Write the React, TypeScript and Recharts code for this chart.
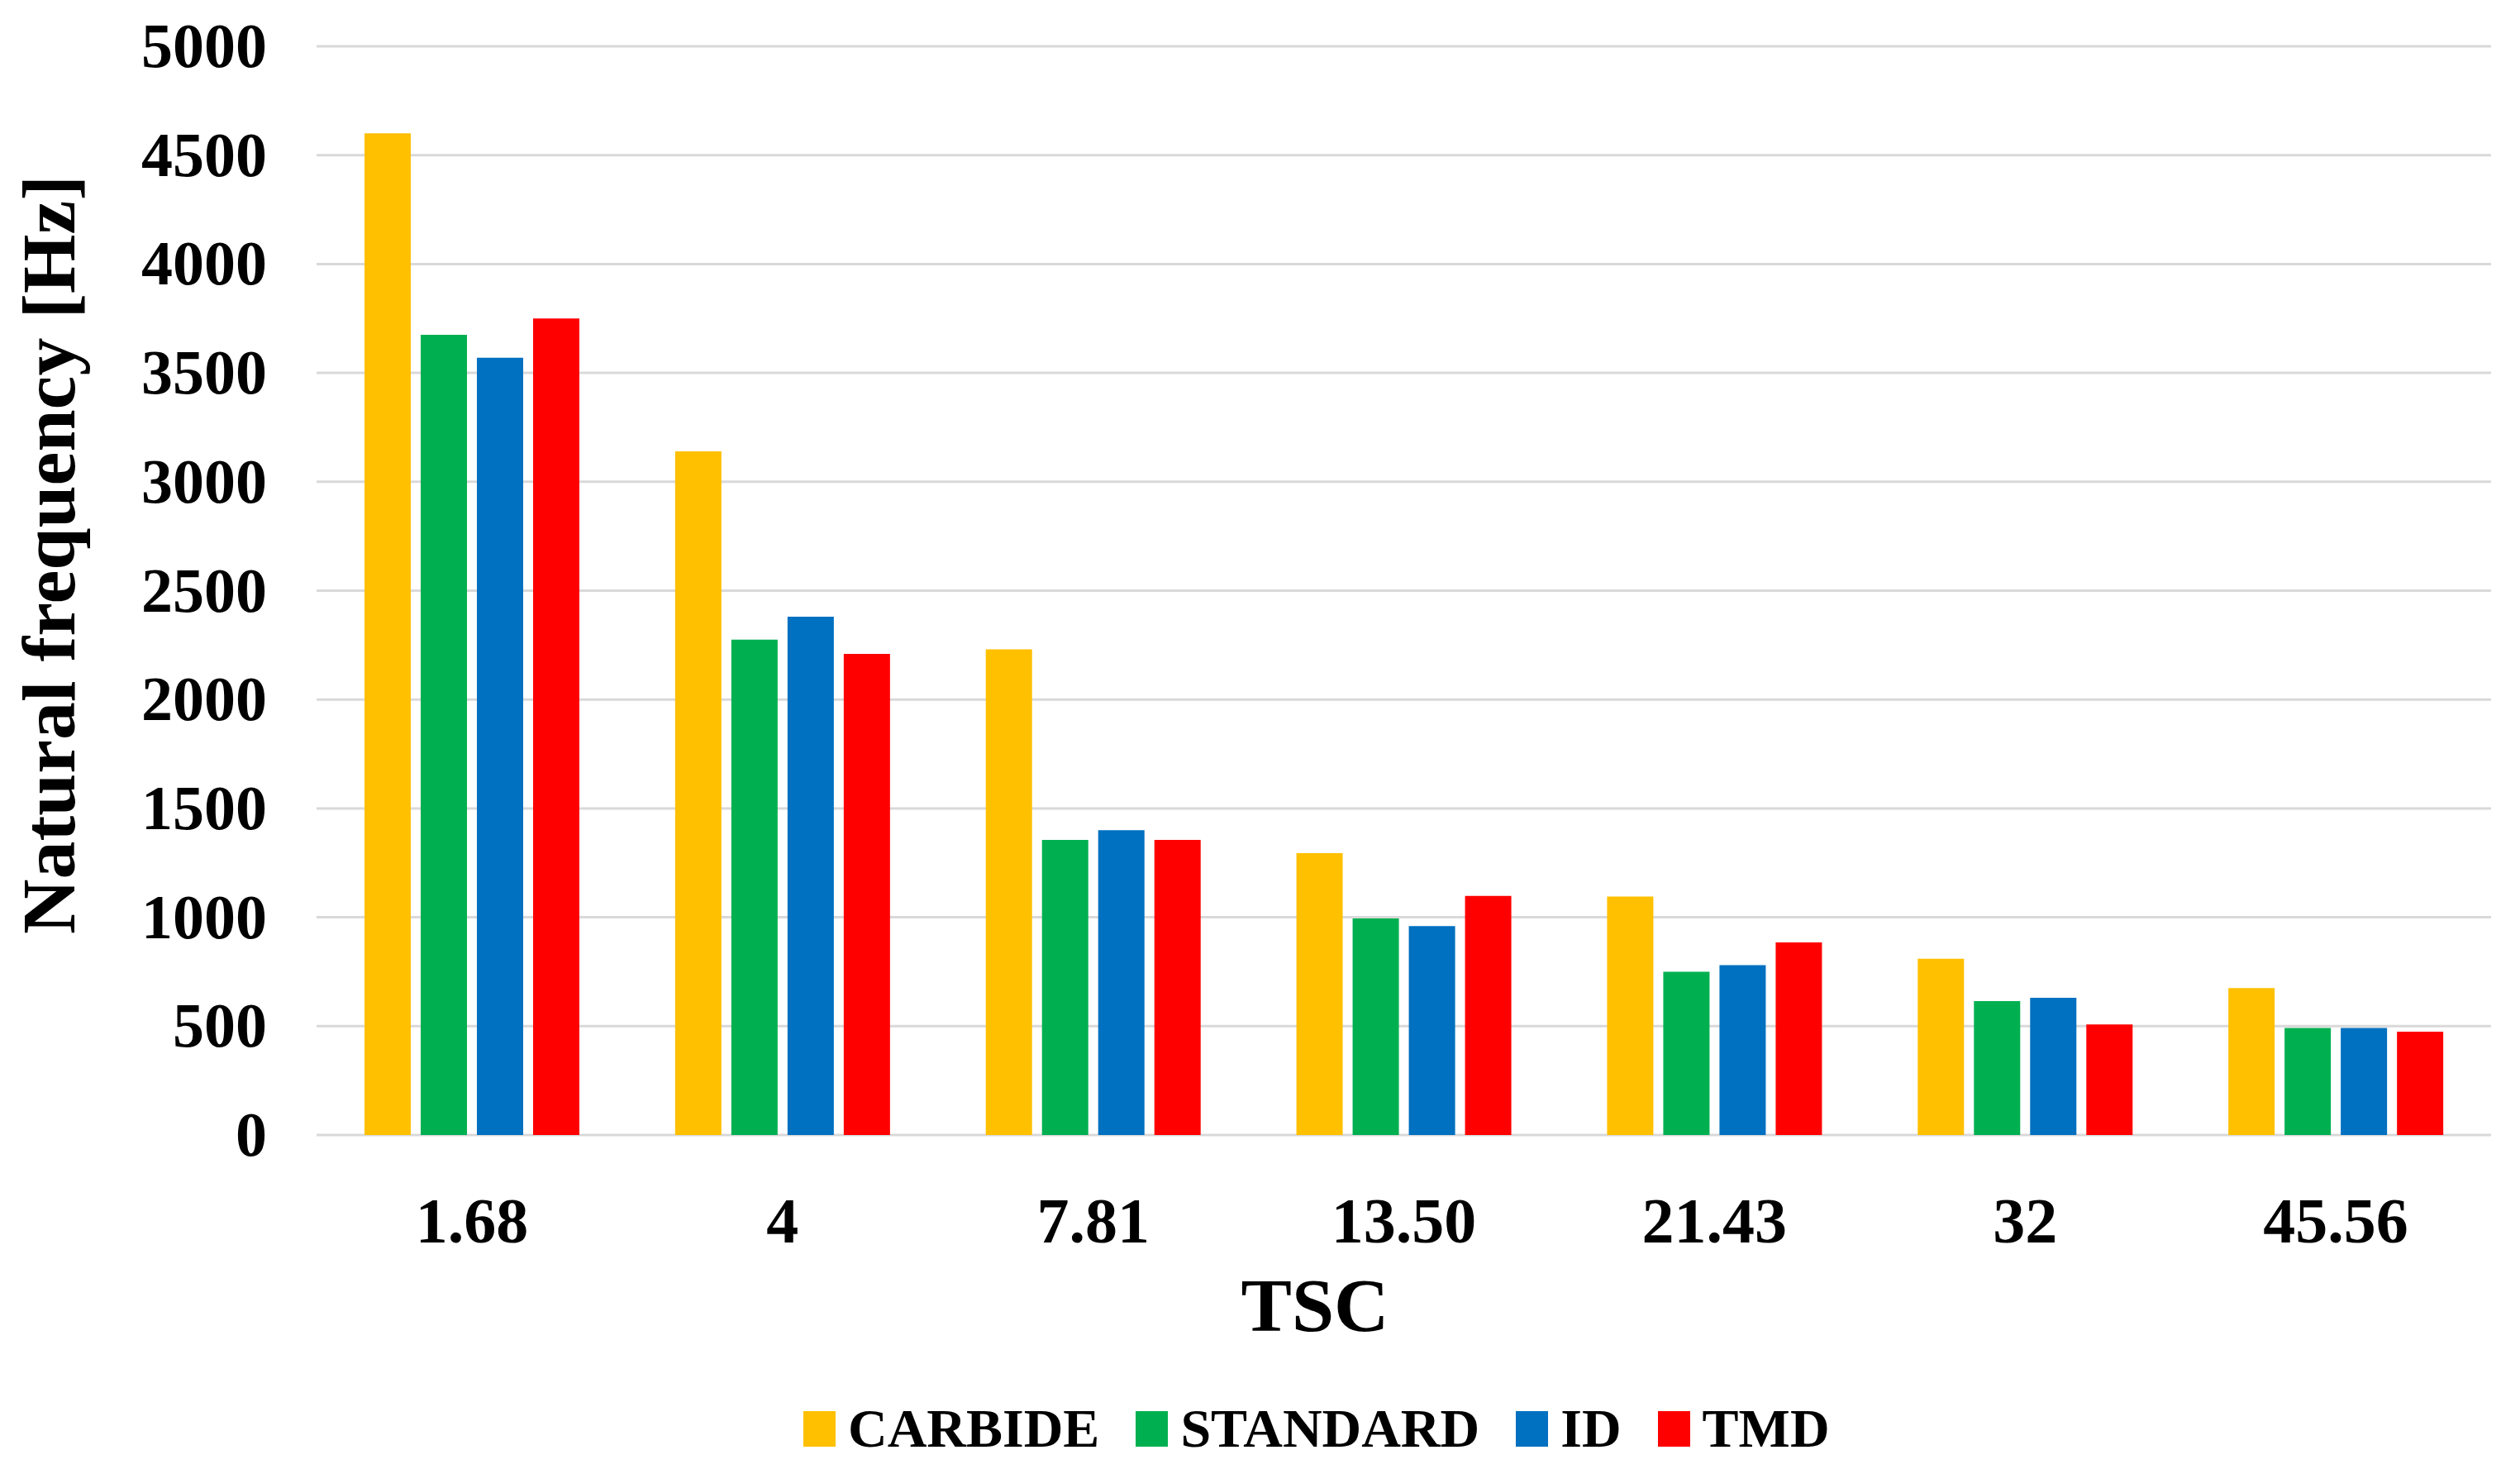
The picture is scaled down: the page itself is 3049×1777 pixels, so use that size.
import React from 'react';
import { BarChart, Bar, XAxis, YAxis, CartesianGrid, Label } from 'recharts';

// TSC categories and natural frequency [Hz] per tool type
const categories = ['1.68', '4', '7.81', '13.50', '21.43', '32', '45.56'];
const carbide = [4600, 3140, 2230, 1295, 1095, 810, 675];
const standard = [3675, 2275, 1355, 995, 750, 615, 492];
const idTool = [3570, 2380, 1400, 960, 780, 630, 492];
const tmd = [3750, 2210, 1355, 1098, 885, 508, 475];
const yTicks = [0, 500, 1000, 1500, 2000, 2500, 3000, 3500, 4000, 4500, 5000];

const seriesNames = ['CARBIDE', 'STANDARD', 'ID', 'TMD'];
const seriesColors = ['#FFC000', '#00B050', '#0070C0', '#FF0000'];

const FONT = '"Liberation Serif", "Times New Roman", serif';

const chartData = categories.map((tsc, i) => ({
  tsc,
  CARBIDE: carbide[i],
  STANDARD: standard[i],
  ID: idTool[i],
  TMD: tmd[i],
}));

const XTick = ({ x, y, payload }: any) => (
  <text x={x} y={y} dy={122} textAnchor="middle" fontFamily={FONT} fontWeight={700} fontSize={78} fill="#000">
    {payload.value}
  </text>
);

const YTick = ({ x, y, payload }: any) => (
  <text x={x} y={y} dy={25} textAnchor="end" fontFamily={FONT} fontWeight={700} fontSize={76} fill="#000">
    {payload.value}
  </text>
);

const YTitle = () => (
  <text
    x={60}
    y={671}
    transform="rotate(-90 60 671)"
    dy={30}
    textAnchor="middle"
    fontFamily={FONT}
    fontWeight={700}
    fontSize={92}
    fill="#000"
  >
    Natural frequency [Hz]
  </text>
);

const XTitle = () => (
  <text x={1591} y={1610} textAnchor="middle" fontFamily={FONT} fontWeight={700} fontSize={92} fill="#000">
    TSC
  </text>
);

export default function App() {
  return (
    <div style={{ position: 'absolute', left: 0, top: 0, width: 3049, height: 1777, background: '#fff' }}>
      <BarChart
        width={3049}
        height={1777}
        data={chartData}
        margin={{ top: 56, right: 35, bottom: 0, left: 0 }}
        barCategoryGap={58}
        barGap={12}
      >
        <CartesianGrid vertical={false} stroke="#D9D9D9" strokeWidth={3} />
        <XAxis dataKey="tsc" height={404} axisLine={false} tickLine={false} tick={<XTick />} interval={0}>
          <Label content={<XTitle />} />
        </XAxis>
        <YAxis
          width={383}
          domain={[0, 5000]}
          ticks={yTicks}
          axisLine={false}
          tickLine={false}
          tickMargin={54}
          tick={<YTick />}
        >
          <Label content={<YTitle />} />
        </YAxis>
        {seriesNames.map((name, i) => (
          <Bar key={name} dataKey={name} fill={seriesColors[i]} isAnimationActive={false} />
        ))}
      </BarChart>

      {/* Legend */}
      <div
        style={{
          position: 'absolute',
          left: 972,
          top: 1690,
          display: 'flex',
          alignItems: 'center',
          fontFamily: FONT,
          fontWeight: 700,
          fontSize: 66,
          color: '#000',
          whiteSpace: 'nowrap',
        }}
      >
        {seriesNames.map((name, i) => (
          <div key={name} style={{ display: 'flex', alignItems: 'center', marginRight: 44 }}>
            <span style={{ display: 'inline-block', width: 39, height: 43, background: seriesColors[i], marginRight: 15 }} />
            <span>{name}</span>
          </div>
        ))}
      </div>
    </div>
  );
}
